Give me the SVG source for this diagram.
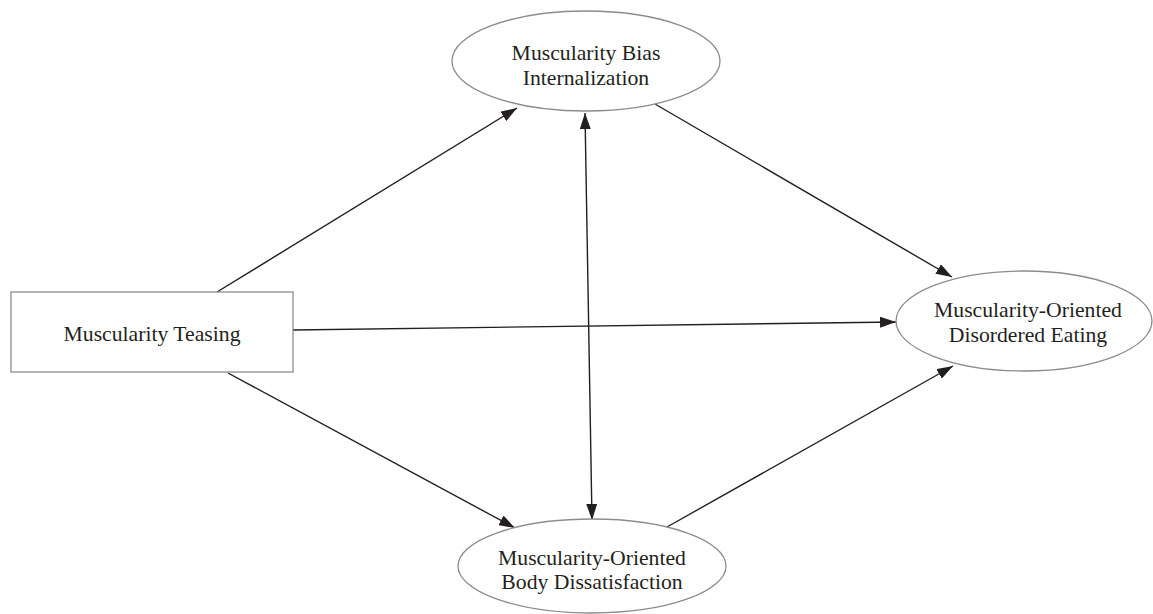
<svg xmlns="http://www.w3.org/2000/svg" width="1153" height="614" viewBox="0 0 1153 614">
<style>
.node{fill:#fff;stroke:#8c8c8c;stroke-width:1.3}
.lbl{font-family:"Liberation Serif","Times New Roman",serif;font-size:21.7px;fill:#231f20;text-anchor:middle}
.edge{stroke:#231f20;stroke-width:1.4;fill:none;marker-end:url(#ah)}
</style>
<defs>
<marker id="ah" viewBox="0 0 16 11" refX="16" refY="5.5" markerWidth="16" markerHeight="11" markerUnits="userSpaceOnUse" orient="auto-start-reverse">
<path d="M0,0 L16,5.5 L0,11 Z" fill="#231f20"/>
</marker>
</defs>
<rect width="1153" height="614" fill="#fff"/>
<g id="connectors">
<line class="edge" x1="217" y1="292" x2="517" y2="108"/>
<line class="edge" x1="655" y1="104" x2="952" y2="277"/>
<line class="edge" x1="293" y1="330" x2="896" y2="322"/>
<line class="edge" x1="228" y1="373" x2="515" y2="528"/>
<line class="edge" x1="667" y1="527" x2="953" y2="366"/>
<line class="edge" style="marker-start:url(#ah)" x1="585" y1="113" x2="592" y2="520"/>
</g>
<g id="node-bias">
<ellipse class="node" cx="586" cy="61" rx="134" ry="50"/>
<text class="lbl" x="586" y="60">Muscularity Bias</text>
<text class="lbl" x="586" y="85">Internalization</text>
</g>
<g id="node-teasing">
<rect class="node" x="11" y="292" width="282" height="80"/>
<text class="lbl" x="152" y="341">Muscularity Teasing</text>
</g>
<g id="node-eating">
<ellipse class="node" cx="1024" cy="321" rx="128" ry="50"/>
<text class="lbl" x="1028" y="317">Muscularity-Oriented</text>
<text class="lbl" x="1028" y="342">Disordered Eating</text>
</g>
<g id="node-body">
<ellipse class="node" cx="592" cy="566" rx="134" ry="47"/>
<text class="lbl" x="592" y="565">Muscularity-Oriented</text>
<text class="lbl" x="592" y="589">Body Dissatisfaction</text>
</g>
</svg>
